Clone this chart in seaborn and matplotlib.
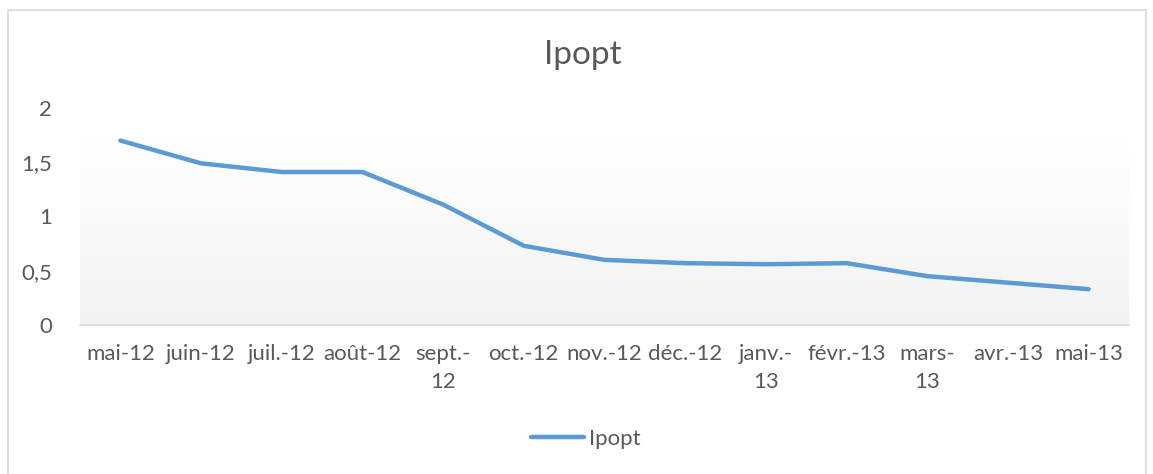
import numpy as np
import pandas as pd
import matplotlib
matplotlib.use("Agg")
import matplotlib.pyplot as plt
from matplotlib.patches import Rectangle
from matplotlib.ticker import FuncFormatter
import seaborn as sns

# donnees
mois = ["mai-12", "juin-12", "juil.-12", "août-12", "sept.-\n12", "oct.-12",
        "nov.-12", "déc.-12", "janv.-\n13", "févr.-13", "mars-\n13", "avr.-13", "mai-13"]
ipopt = [1.70, 1.49, 1.41, 1.41, 1.11, 0.73, 0.60, 0.57, 0.56, 0.57, 0.45, 0.39, 0.33]
yticks = [0, 0.5, 1, 1.5, 2]

df = pd.DataFrame({"pos": np.arange(len(mois)), "Ipopt": ipopt})

sns.set_theme(style="white")
plt.rcParams["font.family"] = ["Lato", "DejaVu Sans"]
gris = "#595959"
bleu = "#5B9BD5"
taille = 16

fig = plt.figure(figsize=(11.53, 4.74), dpi=100)
ax = fig.add_axes([80 / 1153, 1 - 325 / 474, (1129 - 80) / 1153, (325 - 108) / 474])

# cadre exterieur
fig.patches.append(Rectangle((8 / 1153, -0.1), (1146 - 8) / 1153, 1.1 - 10 / 474,
                             transform=fig.transFigure, fill=False,
                             edgecolor="#d9d9d9", linewidth=1.2))

# fond degrade de la zone de tracage
grad = np.linspace(1.0, 0.0, 256).reshape(-1, 1)
ax.imshow(grad, extent=(-0.5, len(mois) - 0.5, 0, 1.73), aspect="auto",
          cmap=matplotlib.colors.LinearSegmentedColormap.from_list("g", ["#f2f2f2", "#ffffff"]),
          vmin=0, vmax=1, zorder=0)

sns.lineplot(data=df, x="pos", y="Ipopt", ax=ax, color=bleu, linewidth=3.2,
             label="Ipopt", zorder=3, solid_capstyle="round")

ax.set_xlim(-0.5, len(mois) - 0.5)
ax.set_ylim(0, 2)
ax.set_yticks(yticks)
ax.yaxis.set_major_formatter(FuncFormatter(lambda v, p: ("%g" % v).replace(".", ",")))
ax.set_xticks(np.arange(len(mois)))
ax.set_xticklabels(mois, color=gris, fontsize=taille, linespacing=1.45, va="top")
ax.set_xticks(np.arange(-0.5, len(mois)), minor=True)
ax.tick_params(axis="x", which="major", length=0, pad=14)
ax.tick_params(axis="x", which="minor", length=6, color="#d9d9d9", width=1.2, direction="out")
ax.tick_params(axis="y", length=0, labelsize=taille, labelcolor=gris, pad=20)
ax.set_xlabel("")
ax.set_ylabel("")
for s in ["top", "right", "left"]:
    ax.spines[s].set_visible(False)
ax.spines["bottom"].set_color("#d9d9d9")
ax.spines["bottom"].set_linewidth(1.2)
ax.patch.set_alpha(0)

fig.text(583 / 1153, 1 - 55 / 474, "Ipopt", ha="center", va="center",
         fontsize=24, color=gris)

leg = ax.legend(loc="center", bbox_to_anchor=(0.508, 1 - 439 / 474), bbox_transform=fig.transFigure,
                frameon=False, fontsize=taille, handlelength=2.4, handletextpad=0.2)
for t in leg.get_texts():
    t.set_color(gris)

fig.savefig("out.png", dpi=100)
